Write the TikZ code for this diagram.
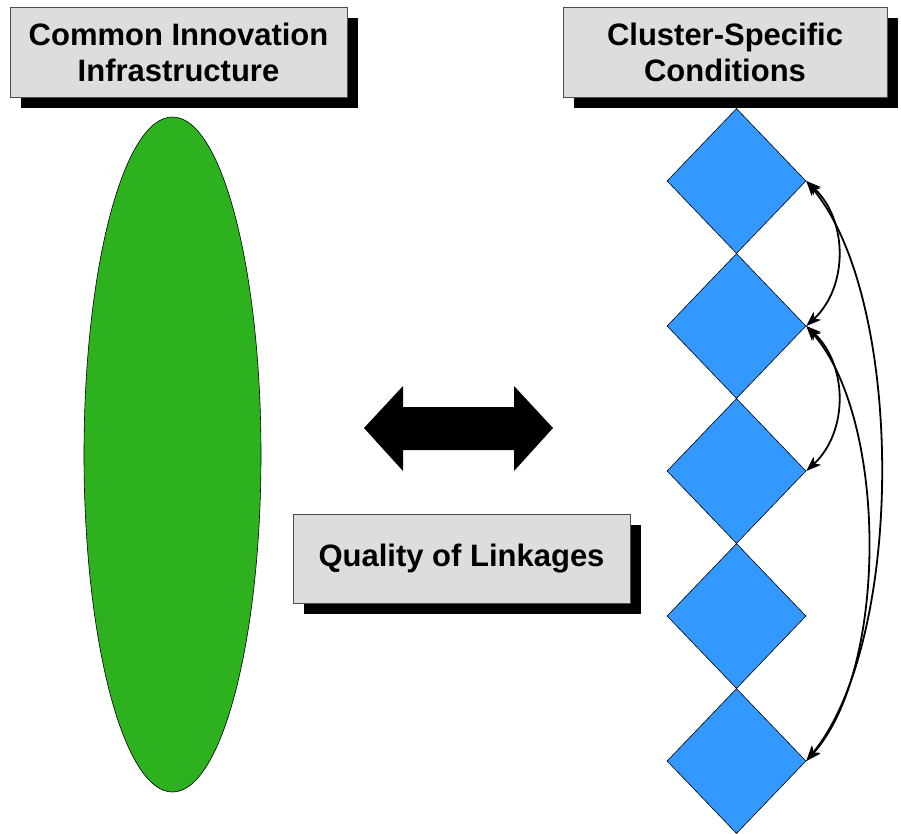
\documentclass[tikz,border=0pt]{standalone}
\usepackage{fontspec}
\setmainfont{Liberation Sans}
\usetikzlibrary{shapes.geometric,shadows,arrows.meta}
\definecolor{boxgray}{HTML}{DDDDDD}
\definecolor{leafgreen}{HTML}{2DB11F}
\definecolor{skyblue}{HTML}{3399FF}
\begin{document}
\begin{tikzpicture}[x=1pt,y=-1pt,
  titlebox/.style={draw=black!70, line width=0.8pt, fill=boxgray, align=center,
    inner sep=0pt, font=\fontsize{31}{36}\selectfont\bfseries,
    drop shadow={shadow xshift=11pt, shadow yshift=-11pt, fill=black, opacity=1}},
  cond/.style={diamond, draw=black, line width=0.6pt, fill=skyblue,
    minimum width=139pt, minimum height=145pt, inner sep=0pt, aspect=1},
  tip/.style={Stealth[length=15pt,width=11pt,inset=4pt]},
  link/.style={{Stealth[length=15pt,width=11pt,inset=4pt]}-{Stealth[length=15pt,width=11pt,inset=4pt]}, line width=1.8pt}
]
\useasboundingbox (0,0) rectangle (901,833);

% heading boxes
\node[titlebox, minimum width=337pt, minimum height=90pt] (cii) at (178.5,52)
  {Common Innovation\\Infrastructure};
\node[titlebox, minimum width=324pt, minimum height=90pt] (csc) at (725,52)
  {Cluster-Specific\\Conditions};
\node[titlebox, minimum width=337pt, minimum height=89pt] (qol) at (461.5,558.5)
  {\raisebox{-2pt}{Quality of Linkages}};

% common infrastructure
\node[ellipse, draw=black, line width=0.6pt, fill=leafgreen,
  minimum width=177pt, minimum height=675pt, inner sep=0pt] (infra) at (172.5,454.5) {};

% two-way block arrow
\fill[black] (364,428) -- (403,386) -- (403,407) -- (514,407) -- (514,386)
  -- (553,428) -- (514,471) -- (514,450) -- (403,450) -- (403,471) -- cycle;

% cluster conditions
\foreach \i/\y in {1/181,2/326,3/471,4/616,5/761}
  \node[cond] (d\i) at (736.5,\y) {};

% links between conditions
\draw[link] (d1.east) .. controls +(42,39) and +(42,-39) .. (d2.east);
\draw[link] (d2.east) .. controls +(42,39) and +(42,-39) .. (d3.east);
\draw[link] (d1.east) .. controls +(99,119) and +(99,-121) .. (d5.east);
\draw[link] (d2.east) .. controls +(82,94) and +(82,-91) .. (d5.east);
\end{tikzpicture}
\end{document}
